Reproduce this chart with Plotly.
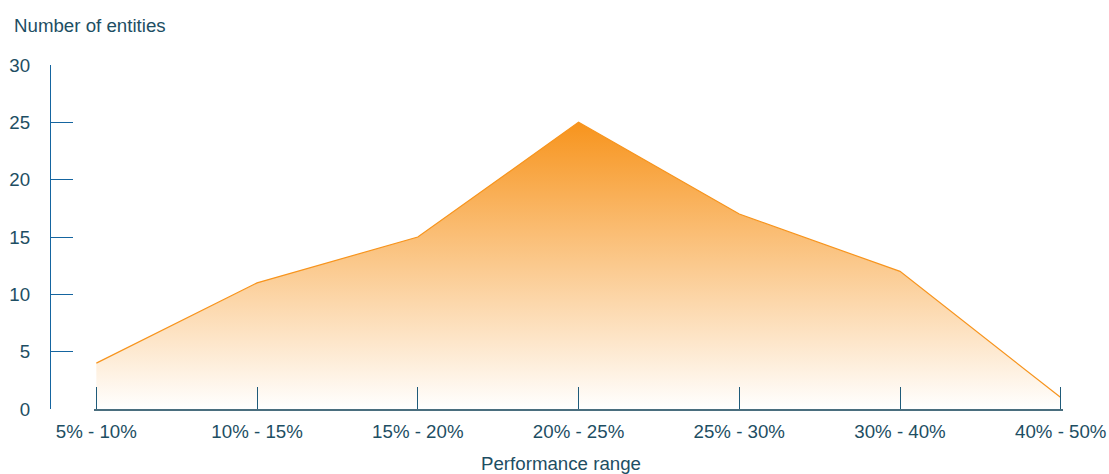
import plotly.graph_objects as go

categories = ["5% - 10%", "10% - 15%", "15% - 20%", "20% - 25%", "25% - 30%", "30% - 40%", "40% - 50%"]
entities = [4, 11, 15, 25, 17, 12, 1]
y_ticks = [0, 5, 10, 15, 20, 25, 30]

W, H = 1109, 474
ML, MR, MT, MB = 50, 48, 65, 65
plot_w = W - ML - MR
plot_h = H - MT - MB
x_start = (94 - ML) / plot_w

text_color = "#1d4e63"
font = dict(family="Liberation Sans, Arial, sans-serif", size=18.7, color=text_color)

fig = go.Figure()
fig.add_trace(go.Scatter(
    x=list(range(len(categories))),
    y=entities,
    mode="lines",
    line=dict(color="#F7941D", width=1.2),
    fill="tozeroy",
    fillgradient=dict(type="vertical",
                      colorscale=[[0, "rgba(255,255,255,1)"], [1, "#F7941D"]],
                      start=0, stop=max(entities)),
    hoverinfo="skip",
    showlegend=False,
))

n = len(categories) - 1
pad = 0.014
fig.update_layout(
    width=W, height=H,
    margin=dict(l=ML, r=MR - 2, t=MT, b=MB, autoexpand=False),
    paper_bgcolor="white", plot_bgcolor="white",
    font=font,
    xaxis=dict(
        domain=[x_start, 1],
        range=[-pad, n + pad],
        automargin=False,
        tickmode="array",
        tickvals=list(range(len(categories))),
        ticktext=categories,
        ticks="inside", ticklen=22, tickwidth=1.3, tickcolor="#1f5b7a",
        showline=True, linecolor="#4a6e7e", linewidth=2,
        showgrid=False, zeroline=False,
        ticklabelstandoff=5,
        tickfont=font,
    ),
    yaxis=dict(
        anchor="free", position=0,
        range=[0, 30],
        automargin=False,
        tickmode="array", tickvals=y_ticks,
        ticks="inside", ticklen=22, tickwidth=1.3, tickcolor="#1565a0",
        showline=True, linecolor="#1565a0", linewidth=1.3,
        showgrid=False, zeroline=False,
        ticklabelstandoff=16,
        tickfont=font,
    ),
    annotations=[
        dict(text="Number of entities", xref="paper", yref="paper",
             x=(12 - ML) / plot_w, y=(H - MB - 25) / plot_h,
             xanchor="left", yanchor="middle", showarrow=False, font=font),
        dict(text="Performance range", xref="paper", yref="paper",
             x=(560 - ML) / plot_w, y=-(463 - (H - MB)) / plot_h,
             xanchor="center", yanchor="middle", showarrow=False, font=font),
    ],
)

fig.write_html("out.html")
